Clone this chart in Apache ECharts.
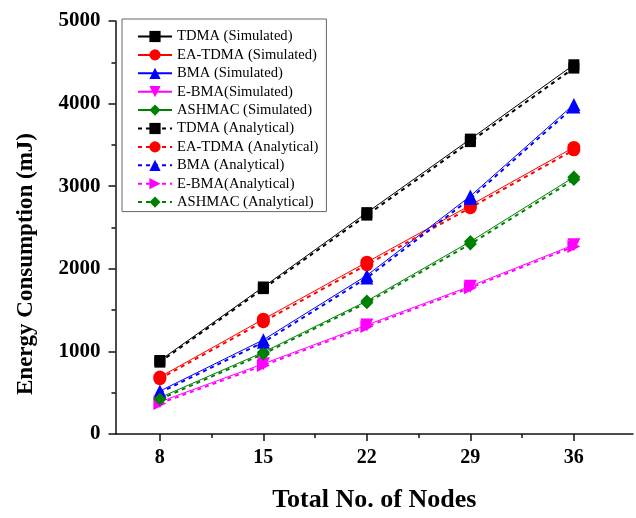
<!DOCTYPE html>
<html>
<head>
<meta charset="utf-8">
<script src="https://cdn.jsdelivr.net/npm/echarts@6/dist/echarts.min.js"></script>
<style>
  html, body { margin: 0; padding: 0; background: #fff; }
  #chart { width: 636px; height: 518px; }
</style>
</head>
<body>
<div id="chart"></div>
<script>
// Number of nodes on the x axis
const nodes = [8, 15, 22, 29, 36];
const minorNodeTicks = [11.5, 18.5, 25.5, 32.5];

// Energy consumption (mJ), simulated
const tdmaSim   = [890, 1780, 2680, 3570, 4470];
const eaTdmaSim = [690, 1390, 2080, 2770, 3470];
const bmaSim    = [520, 1140, 1920, 2880, 3990];
const eBmaSim   = [390, 850, 1320, 1790, 2290];
const ashmacSim = [440, 990, 1610, 2330, 3110];

// Energy consumption (mJ), analytical
const tdmaAna   = [870, 1760, 2650, 3540, 4430];
const eaTdmaAna = [670, 1360, 2050, 2740, 3440];
const bmaAna    = [500, 1110, 1890, 2850, 3960];
const eBmaAna   = [370, 830, 1300, 1770, 2270];
const ashmacAna = [420, 970, 1590, 2300, 3080];

const SERIF = '"Liberation Serif", "Times New Roman", serif';

function pairs(vals) {
  return nodes.map((n, i) => [n, vals[i]]);
}

function makeSeries(name, vals, color, symbol, rotate, analytical) {
  return {
    name: name,
    type: 'line',
    xAxisIndex: 0,
    data: pairs(vals),
    symbol: symbol,
    symbolSize: symbol === 'rect' ? 11 : 13,
    symbolRotate: rotate,
    showAllSymbol: true,
    color: color,
    itemStyle: { color: color },
    lineStyle: analytical
      ? { color: color, width: 2, type: [4, 4] }
      : { color: color, width: 1, type: 'solid' },
    emphasis: { disabled: true },
    animation: false,
    z: analytical ? 3 : 2
  };
}

const series = [
  makeSeries('TDMA (Simulated)',        tdmaSim,   '#000000', 'rect',     0,   false),
  makeSeries('EA-TDMA (Simulated)',     eaTdmaSim, '#ff0000', 'circle',   0,   false),
  makeSeries('BMA (Simulated)',         bmaSim,    '#0000ff', 'triangle', 0,   false),
  makeSeries('E-BMA(Simulated)',        eBmaSim,   '#ff00ff', 'triangle', 180, false),
  makeSeries('ASHMAC (Simulated)',      ashmacSim, '#008000', 'diamond',  0,   false),
  makeSeries('TDMA (Analytical)',       tdmaAna,   '#000000', 'rect',     0,   true),
  makeSeries('EA-TDMA (Analytical)',    eaTdmaAna, '#ff0000', 'circle',   0,   true),
  makeSeries('BMA (Analytical)',        bmaAna,    '#0000ff', 'triangle', 0,   true),
  makeSeries('E-BMA(Analytical)',       eBmaAna,   '#ff00ff', 'triangle', -90, true),
  makeSeries('ASHMAC (Analytical)',     ashmacAna, '#008000', 'diamond',  0,   true)
];

const chart = echarts.init(document.getElementById('chart'), null, { renderer: 'canvas' });

chart.setOption({
  backgroundColor: '#ffffff',
  animation: false,
  grid: { left: 115.5, right: 3, top: 21, bottom: 81, containLabel: false },
  legend: {
    orient: 'vertical',
    left: 122,
    top: 19,
    padding: [10, 8, 2, 15],
    itemWidth: 34,
    itemHeight: 14,
    itemGap: 3.4,
    borderColor: '#666666',
    borderWidth: 1,
    backgroundColor: '#ffffff',
    textStyle: { fontFamily: SERIF, fontSize: 14.6, lineHeight: 14, color: '#000000' },
    data: series.map(s => s.name)
  },
  xAxis: [
    {
      type: 'value',
      min: 5,
      max: 40,
      position: 'bottom',
      splitLine: { show: false },
      axisLine: { show: true, onZero: false, lineStyle: { color: '#111111', width: 1.5 } },
      axisTick: { show: true, inside: false, length: 7, customValues: nodes,
                  lineStyle: { color: '#111111', width: 1.5 } },
      axisLabel: { show: true, customValues: nodes, margin: 14,
                   fontFamily: SERIF, fontSize: 20, fontWeight: 'bold', color: '#000000' },
      name: 'Total No. of Nodes',
      nameLocation: 'middle',
      nameGap: 53,
      nameTextStyle: { fontFamily: SERIF, fontSize: 26, fontWeight: 'bold', color: '#000000' }
    },
    {
      type: 'value',
      min: 5,
      max: 40,
      position: 'bottom',
      splitLine: { show: false },
      axisLine: { show: false, onZero: false },
      axisTick: { show: true, inside: false, length: 4, customValues: minorNodeTicks,
                  lineStyle: { color: '#111111', width: 1.5 } },
      axisLabel: { show: false }
    }
  ],
  yAxis: {
    type: 'value',
    min: 0,
    max: 5000,
    interval: 1000,
    splitLine: { show: false },
    axisLine: { show: true, onZero: false, lineStyle: { color: '#111111', width: 1.5 } },
    axisTick: { show: true, inside: false, length: 7, lineStyle: { color: '#111111', width: 1.5 } },
    minorTick: { show: true, splitNumber: 2, length: 4, lineStyle: { color: '#111111', width: 1.5 } },
    axisLabel: { margin: 15, fontFamily: SERIF, fontSize: 21, fontWeight: 'bold', color: '#000000',
                 formatter: v => String(v) }
  },
  graphic: [
    {
      type: 'text',
      x: 26,
      y: 264,
      rotation: Math.PI / 2,
      style: {
        text: 'Energy Consumption (mJ)',
        fontFamily: SERIF,
        fontSize: 23,
        fontWeight: 'bold',
        fill: '#000000',
        align: 'center',
        verticalAlign: 'middle'
      }
    }
  ],
  series: series
});
</script>
</body>
</html>
